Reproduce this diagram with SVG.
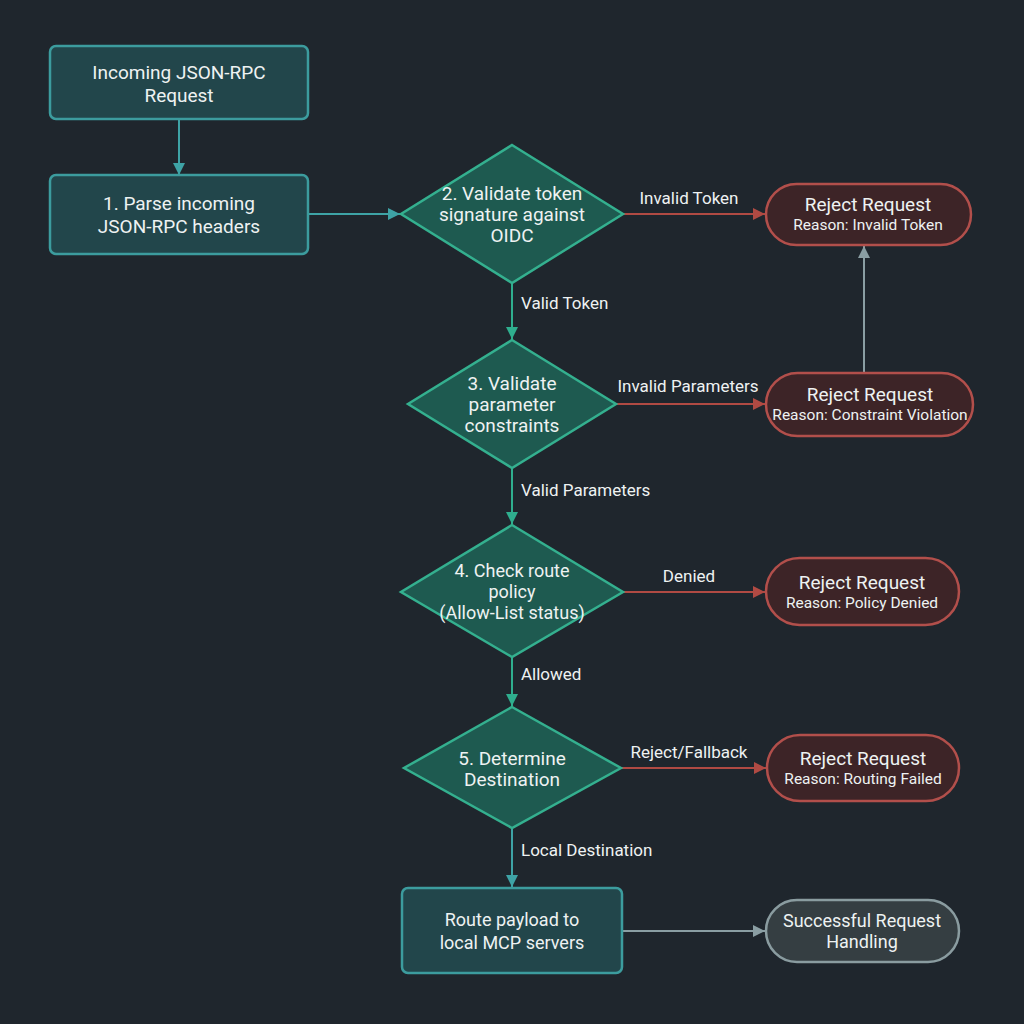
<svg xmlns="http://www.w3.org/2000/svg" width="1024" height="1024" viewBox="0 0 1024 1024">
<defs>
<style>
.bg{fill:#1f262d}
.box{fill:#22464b;stroke:#3c9c9e;stroke-width:2.5}
.dia{fill:#1e5a50;stroke:#34b08f;stroke-width:2.5}
.rej{fill:#3d2427;stroke:#b24f4b;stroke-width:2.5}
.ok{fill:#353e42;stroke:#8a9ca0;stroke-width:2.5}
text{font-family:Roboto,"Liberation Sans",sans-serif;fill:#eef2f2;text-anchor:middle}
.t{font-size:19px}
.m{font-size:18px}
.s{font-size:15.5px}
.l{font-size:17px;text-anchor:start}
.lc{font-size:17px}
.ct{stroke:#3ea3a6;stroke-width:2;fill:none}
.cg{stroke:#2fae8e;stroke-width:2;fill:none}
.cr{stroke:#b04a43;stroke-width:2;fill:none}
.cy{stroke:#8a9ea3;stroke-width:2;fill:none}
</style>
<marker id="at" viewBox="0 0 10 10" refX="10" refY="5" markerWidth="12" markerHeight="12" markerUnits="userSpaceOnUse" orient="auto"><path d="M0,0 L10,5 L0,10 z" fill="#3ea3a6"/></marker>
<marker id="ag" viewBox="0 0 10 10" refX="10" refY="5" markerWidth="12" markerHeight="12" markerUnits="userSpaceOnUse" orient="auto"><path d="M0,0 L10,5 L0,10 z" fill="#2fae8e"/></marker>
<marker id="ar" viewBox="0 0 10 10" refX="10" refY="5" markerWidth="12" markerHeight="12" markerUnits="userSpaceOnUse" orient="auto"><path d="M0,0 L10,5 L0,10 z" fill="#b04a43"/></marker>
<marker id="ay" viewBox="0 0 10 10" refX="10" refY="5" markerWidth="12" markerHeight="12" markerUnits="userSpaceOnUse" orient="auto"><path d="M0,0 L10,5 L0,10 z" fill="#8a9ea3"/></marker>
</defs>
<rect class="bg" x="0" y="0" width="1024" height="1024"/>

<g id="connectors">
<path class="ct" d="M179,119 V175" marker-end="url(#at)"/>
<path class="ct" d="M309,214 H400" marker-end="url(#at)"/>
<path class="cr" d="M623,214 H765" marker-end="url(#ar)"/>
<text class="lc" x="689" y="204">Invalid Token</text>
<path class="cg" d="M512,283 V339" marker-end="url(#ag)"/>
<text class="l" x="521" y="309">Valid Token</text>
<path class="cr" d="M616,404 H765" marker-end="url(#ar)"/>
<text class="lc" x="688" y="392">Invalid Parameters</text>
<path class="cy" d="M864,373 V246" marker-end="url(#ay)"/>
<path class="cg" d="M512,468 V524" marker-end="url(#ag)"/>
<text class="l" x="521" y="496">Valid Parameters</text>
<path class="cr" d="M623,592 H765" marker-end="url(#ar)"/>
<text class="lc" x="689" y="582">Denied</text>
<path class="cg" d="M512,657 V706" marker-end="url(#ag)"/>
<text class="l" x="521" y="680">Allowed</text>
<path class="cr" d="M621,768 H766" marker-end="url(#ar)"/>
<text class="lc" x="689" y="758">Reject/Fallback</text>
<path class="ct" d="M512,828 V887" marker-end="url(#at)"/>
<text class="l" x="521" y="856">Local Destination</text>
<path class="cy" d="M622,931 H765" marker-end="url(#ay)"/>
</g>

<g id="start">
<rect class="box" x="50" y="46" width="258" height="73" rx="6"/>
<text class="t" x="179" y="79">Incoming JSON-RPC</text>
<text class="t" x="179" y="102">Request</text>
</g>
<g id="parse">
<rect class="box" x="50" y="175" width="258" height="79" rx="6"/>
<text class="t" x="179" y="210">1. Parse incoming</text>
<text class="t" x="179" y="233">JSON-RPC headers</text>
</g>
<g id="validate-token">
<polygon class="dia" points="512,145 623,214 512,283 401,214"/>
<text class="t" x="512" y="200">2. Validate token</text>
<text class="t" x="512" y="221">signature against</text>
<text class="t" x="512" y="242">OIDC</text>
</g>
<g id="reject-token">
<rect class="rej" x="766" y="184" width="205" height="61" rx="30.5"/>
<text class="t" x="868" y="211">Reject Request</text>
<text class="s" x="868" y="230">Reason: Invalid Token</text>
</g>
<g id="validate-params">
<polygon class="dia" points="512,340 616,404 512,468 408,404"/>
<text class="t" x="512" y="390">3. Validate</text>
<text class="t" x="512" y="411">parameter</text>
<text class="t" x="512" y="432">constraints</text>
</g>
<g id="reject-params">
<rect class="rej" x="766" y="373" width="207" height="63" rx="31.5"/>
<text class="t" x="870" y="401">Reject Request</text>
<text class="s" x="870" y="420">Reason: Constraint Violation</text>
</g>
<g id="check-policy">
<polygon class="dia" points="512,525 623,592 512,657 401,592"/>
<text class="m" x="512" y="577">4. Check route</text>
<text class="m" x="512" y="598">policy</text>
<text class="m" x="512" y="619">(Allow-List status)</text>
</g>
<g id="reject-policy">
<rect class="rej" x="766" y="558" width="193" height="67" rx="33.5"/>
<text class="t" x="862" y="589">Reject Request</text>
<text class="s" x="862" y="608">Reason: Policy Denied</text>
</g>
<g id="determine-dest">
<polygon class="dia" points="512,707 621,768 512,828 404,768"/>
<text class="t" x="512" y="765">5. Determine</text>
<text class="t" x="512" y="786">Destination</text>
</g>
<g id="reject-routing">
<rect class="rej" x="767" y="735" width="192" height="66" rx="33"/>
<text class="t" x="863" y="765">Reject Request</text>
<text class="s" x="863" y="784">Reason: Routing Failed</text>
</g>
<g id="route">
<rect class="box" x="402" y="888" width="220" height="85" rx="6"/>
<text class="m" x="512" y="926">Route payload to</text>
<text class="m" x="512" y="949">local MCP servers</text>
</g>
<g id="success">
<rect class="ok" x="766" y="900" width="193" height="62" rx="31"/>
<text class="m" x="862" y="927">Successful Request</text>
<text class="m" x="862" y="948">Handling</text>
</g>
</svg>
